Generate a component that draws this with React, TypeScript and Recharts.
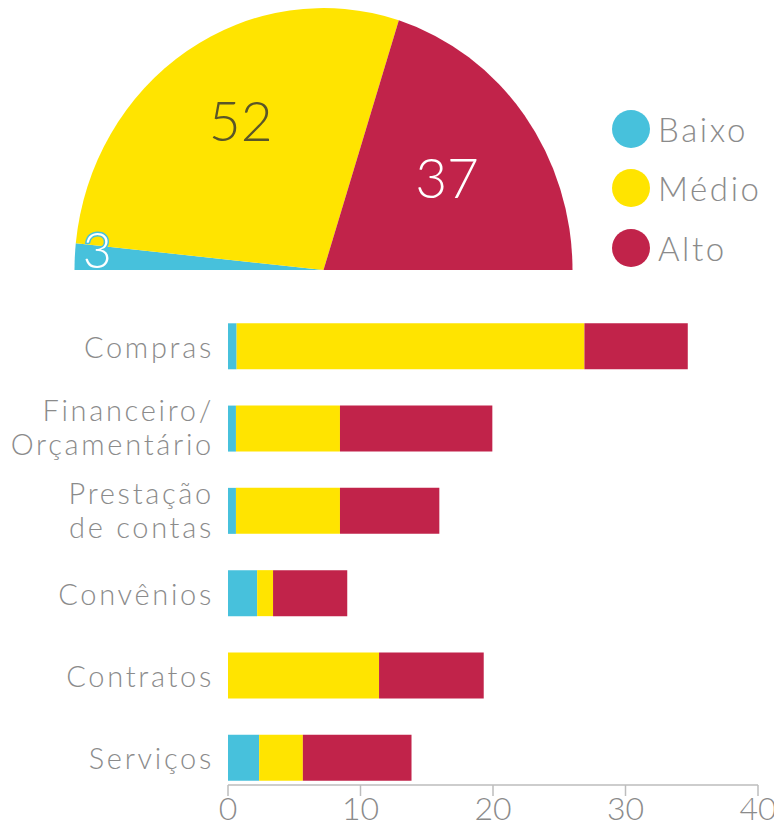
import React from 'react';
import { PieChart, Pie, Cell, Legend, BarChart, Bar, XAxis, YAxis } from 'recharts';

const levels = ['Baixo', 'Médio', 'Alto'];
const levelTotals = [3, 52, 37];
const colors = ['#47C1DC', '#FFE400', '#C1234A'];

const categories = ['Compras', 'Financeiro/\nOrçamentário', 'Prestação\nde contas', 'Convênios', 'Contratos', 'Serviços'];
const baixo = [0.65, 0.6, 0.6, 2.2, 0, 2.35];
const medio = [26.25, 7.85, 7.85, 1.2, 11.4, 3.3];
const alto = [7.8, 11.5, 7.5, 5.6, 7.9, 8.2];
const xTicks = [0, 10, 20, 30, 40];

const pieData = levels.map((name, i) => ({ name, value: levelTotals[i] }));
const barData = categories.map((name, i) => ({ name, Baixo: baixo[i], Médio: medio[i], Alto: alto[i] }));

const FONT = 'Lato, "Open Sans", sans-serif';
const GREY = '#8b8b8b';

const labelRadius = [0.91, 0.665, 0.615];
const labelDx = [0, 8, 0];
const labelDy = [-9, -12, -3];
const labelSize = [50, 55, 55];
const labelColor = ['#ffffff', '#5a5628', '#ffffff'];

const RAD = Math.PI / 180;
const renderPieLabel = (p: any) => {
  const { cx, cy, midAngle, outerRadius, index, value } = p;
  const r = outerRadius * labelRadius[index];
  const x = cx + r * Math.cos(-midAngle * RAD) + labelDx[index];
  const y = cy + r * Math.sin(-midAngle * RAD) + labelDy[index];
  return (
    <text x={x} y={y} textAnchor="middle" dominantBaseline="central" fill={labelColor[index]}
      stroke={index === 0 ? colors[0] : 'none'} strokeWidth={index === 0 ? 3 : 0} paintOrder="stroke"
      fontSize={labelSize[index]} fontFamily={FONT} fontWeight={300}>
      {value}
    </text>
  );
};

const LegendContent = (props: any) => {
  const { payload } = props;
  const items = [...(payload || [])].sort((a: any, b: any) => levels.indexOf(a.value) - levels.indexOf(b.value));
  return (
    <div style={{ fontFamily: FONT }}>
      {items.map((e: any) => (
        <div key={e.value} style={{ display: 'flex', alignItems: 'center', height: 59.5 }}>
          <svg width={38} height={38} style={{ display: 'block' }}>
            <circle cx={19} cy={19} r={19} fill={e.color} />
          </svg>
          <span style={{ marginLeft: 8, fontSize: 33, fontWeight: 300, letterSpacing: 2.6, color: GREY, lineHeight: '38px' }}>{e.value}</span>
        </div>
      ))}
    </div>
  );
};

const CategoryTick = (props: any) => {
  const { x, y, payload } = props;
  const lines = String(payload.value).split('\n');
  const lh = 34;
  const start = -((lines.length - 1) / 2) * lh - (lines.length > 1 ? 2 : 0);
  return (
    <g>
      {lines.map((l, i) => (
        <text key={i} x={x - 6} y={y + start + i * lh} dominantBaseline="central" textAnchor="end"
          fill={GREY} fontSize={29} letterSpacing={2.7} fontFamily={FONT} fontWeight={300}>{l}</text>
      ))}
    </g>
  );
};

export default function App() {
  return (
    <div style={{ position: 'relative', width: 766, height: 820, fontFamily: FONT }}>
      <style>{`.pie-scale .recharts-pie { transform: scaleY(1.052); transform-origin: 315.5px 262px; }`}</style>
      <div className="pie-scale" style={{ position: 'absolute', left: 0, top: 0 }}>
        <PieChart width={766} height={280} margin={{ top: 0, right: 0, bottom: 0, left: 0 }}>
          <Pie data={pieData} dataKey="value" nameKey="name" cx={315.5} cy={262} outerRadius={249}
            startAngle={180} endAngle={0} stroke="none" label={renderPieLabel} labelLine={false}
            isAnimationActive={false}>
            {pieData.map((d, i) => <Cell key={d.name} fill={colors[i]} />)}
          </Pie>
          <Legend content={<LegendContent />} layout="vertical"
            wrapperStyle={{ position: 'absolute', left: 604, top: 91, width: 160 }} />
        </PieChart>
      </div>
      <div style={{ position: 'absolute', left: 0, top: 280 }}>
        <BarChart width={774} height={540} data={barData} layout="vertical"
          margin={{ top: 17.3, right: 24, bottom: 3, left: 0 }} barSize={46}>
          <XAxis type="number" domain={[0, 40]} ticks={xTicks} height={40}
            axisLine={{ stroke: '#bdbdbd', strokeWidth: 1.5 }} tickLine={{ stroke: '#bdbdbd', strokeWidth: 1.5 }}
            tickSize={11} tickMargin={1}
            tick={{ fill: GREY, fontSize: 32, fontFamily: FONT, fontWeight: 300 }} />
          <YAxis type="category" dataKey="name" width={220} axisLine={false} tickLine={false}
            padding={{ top: 0, bottom: -14 }} tick={<CategoryTick />} interval={0} />
          <Bar dataKey="Baixo" stackId="a" fill={colors[0]} isAnimationActive={false} />
          <Bar dataKey="Médio" stackId="a" fill={colors[1]} isAnimationActive={false} />
          <Bar dataKey="Alto" stackId="a" fill={colors[2]} isAnimationActive={false} />
        </BarChart>
      </div>
    </div>
  );
}
